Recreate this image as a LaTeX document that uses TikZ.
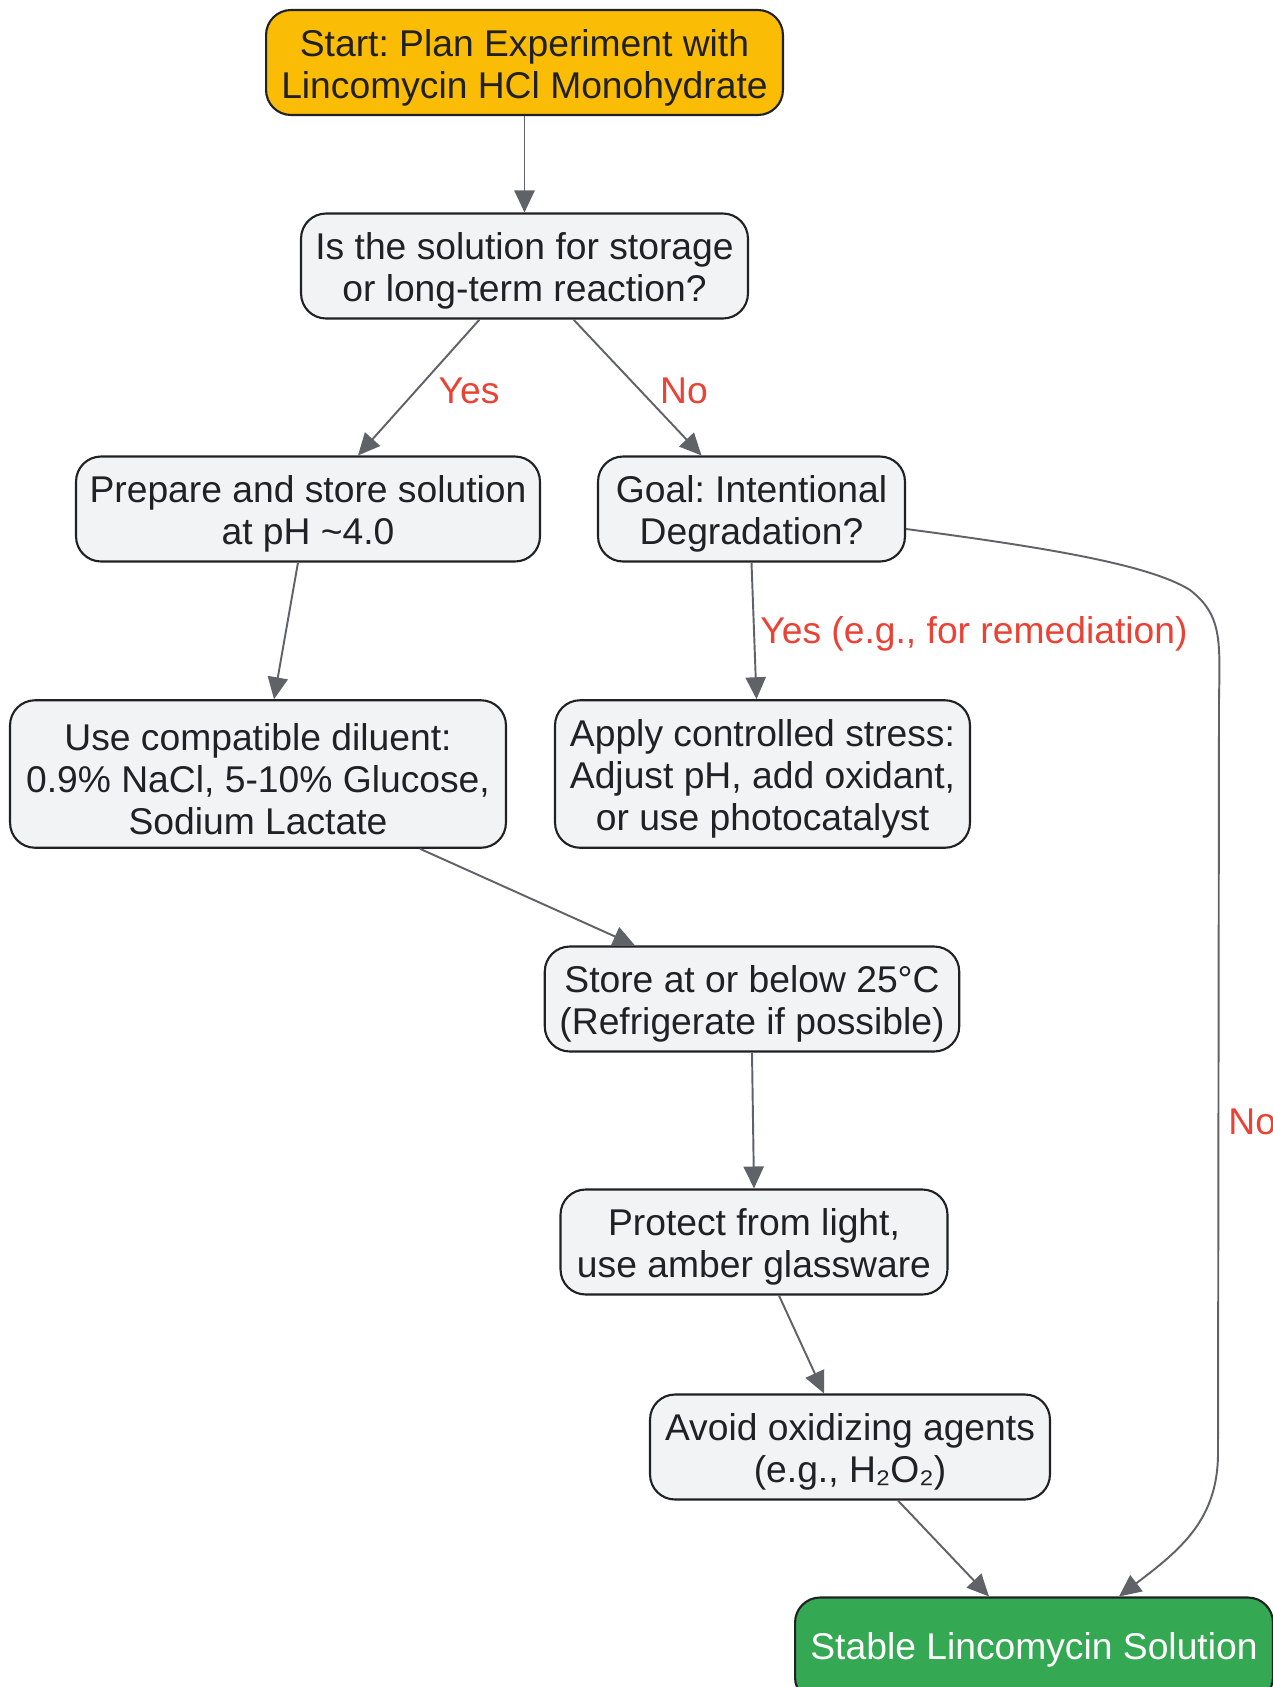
\documentclass[tikz,border=0pt]{standalone}
\usepackage{fontspec}
\setmainfont{Liberation Sans}
\usetikzlibrary{arrows.meta,calc}
\frenchspacing
\definecolor{startfill}{HTML}{FBBC05}
\definecolor{endfill}{HTML}{34A853}
\definecolor{boxfill}{HTML}{F1F3F4}
\definecolor{boxline}{HTML}{202124}
\definecolor{arrline}{HTML}{5F6368}
\definecolor{lblred}{HTML}{EA4335}
\newcommand{\boxstrut}{\rule{0pt}{21pt}}
\tikzset{
  box/.style={draw=boxline, line width=1.2pt, fill=boxfill, rounded corners=0.5cm,
    align=center, text=boxline, font=\fontsize{21.2}{23.9}\selectfont,
    inner sep=0pt, minimum height=2.1cm},
  startbox/.style={box, fill=startfill},
  endbox/.style={box, fill=endfill, text=white},
  arr/.style={draw=arrline, line width=1.1pt, -{Triangle[length=12.5pt,width=11.5pt]}},
  lbl/.style={text=lblred, font=\fontsize{21.2}{23.9}\selectfont, inner sep=0pt}
}
\begin{document}
\begin{tikzpicture}[x=0.02cm, y=-0.02cm]
 \useasboundingbox (0,0) rectangle (1273,1687);
 \clip (0,0) rectangle (1273,1687);
 % nodes
 \node[startbox, minimum width=10.34cm] (start) at (524.5,62.5) {\boxstrut Start: Plan Experiment with\\Lincomycin HCl Monohydrate};
 \node[box, minimum width=8.94cm] (ask) at (524.5,266) {\boxstrut Is the solution for storage\\or long-term reaction?};
 \node[box, minimum width=9.28cm] (prep) at (308,509) {\boxstrut Prepare and store solution\\at pH \textasciitilde4.0};
 \node[box, minimum width=6.14cm] (goal) at (751.5,509) {\boxstrut Goal: Intentional\\Degradation?};
 \node[box, minimum width=9.92cm, minimum height=2.95cm] (diluent) at (258,774) {\boxstrut Use compatible diluent:\\0.9\% NaCl, 5-10\% Glucose,\\Sodium Lactate};
 \node[box, minimum width=8.3cm, minimum height=2.95cm] (stress) at (762.5,774) {\boxstrut Apply controlled stress:\\Adjust pH, add oxidant,\\or use photocatalyst};
 \node[box, minimum width=8.29cm] (cold) at (752,999) {\boxstrut Store at or below 25°C\\(Refrigerate if possible)};
 \node[box, minimum width=7.74cm] (light) at (754,1242) {\boxstrut Protect from light,\\use amber glassware};
 \node[box, minimum width=8cm] (oxid) at (850,1447) {\boxstrut Avoid oxidizing agents\\(e.g., H₂O₂)};
 \node[endbox, minimum width=9.56cm] (stable) at (1034,1650) {Stable Lincomycin Solution};
 % connectors
 \draw[arr] (start.south) -- (ask.north);
 \draw[arr] ($(ask.south)+(-45,0)$) -- ($(prep.north)+(50,0)$);
 \draw[arr] ($(ask.south)+(49,0)$) -- ($(goal.north)+(-50,0)$);
 \draw[arr] ($(prep.south)+(-10,0)$) -- ($(diluent.north)+(16,0)$);
 \draw[arr] (goal.south) -- ($(stress.north)+(-6,0)$);
 \draw[arr] ($(goal.east)+(0,20)$) .. controls (1050,548) and (1150,565) .. (1190,590)
   .. controls (1222,615) and (1220,640) .. (1219,700) -- (1218,1453)
   .. controls (1218,1520) and (1180,1550) .. ($(stable.north)+(85,0)$);
 \draw[arr] ($(diluent.south)+(162,0)$) -- ($(cold.north)+(-117,0)$);
 \draw[arr] (cold.south) -- (light.north);
 \draw[arr] ($(light.south)+(25,0)$) -- ($(oxid.north)+(-26,0)$);
 \draw[arr] ($(oxid.south)+(48,0)$) -- ($(stable.north)+(-45,0)$);
 % labels
 \node[lbl] (yes1) at (469,391) {Yes};
 \node[lbl] (no1) at (684,391) {No};
 \node[lbl, anchor=west] (yes2) at (760,634) {Yes (e.g., for remediation)};
 \node[lbl, anchor=west] (no2) at (1228,1122) {No};
\end{tikzpicture}
\end{document}
